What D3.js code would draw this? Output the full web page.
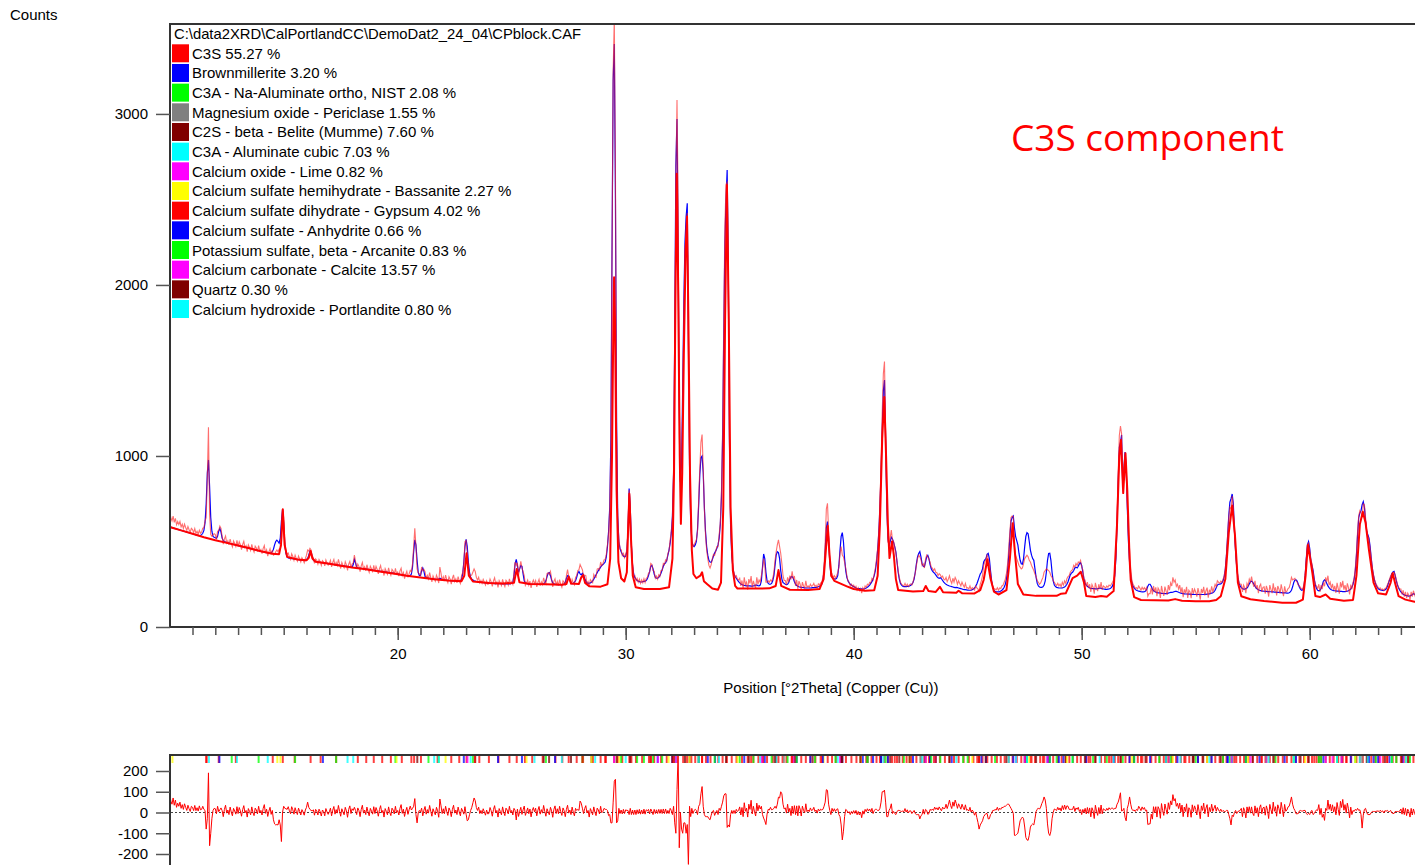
<!DOCTYPE html>
<html>
<head>
<meta charset="utf-8">
<script src="https://cdn.jsdelivr.net/npm/d3@7"></script>
<style>
  body { margin: 0; background: #fff; }
  svg { display: block; }
  text { font-family: "Liberation Sans", Arial, sans-serif; font-size: 15px; fill: #000; }
</style>
</head>
<body>
<svg id="chart" width="1415" height="865"></svg>
<script>
// ---- Scan description ----
const scanStart = 10.0;   // °2θ of the first step
const scanStep = 0.05;    // °2θ per step

// Observed counts, one row per degree (20 steps each)
const observedCounts = [
  675,638,621,649,612,635,598,616,599,617,585,601,576,601,582,565,588,569,554,577, // 10
  570,552,575,548,560,542,566,548,555,578,580,620,640,870,1168,660,540,530,540,545, // 11
  540,512,560,564,590,577,529,485,515,532,491,504,480,514,488,469,503,488,471,506, // 12
  471,498,481,453,483,501,464,475,441,480,465,447,483,456,438,472,462,441,476,444, // 13
  453,429,460,476,432,451,414,438,457,425,450,420,425,440,450,440,455,460,480,690, // 14
  640,500,448,425,432,410,395,428,412,390,420,401,385,415,398,380,405,392,376,400, // 15
  420,450,445,460,450,418,405,372,398,390,368,395,382,360,388,380,358,392,375,362, // 16
  373,390,352,378,395,357,378,360,396,367,342,377,360,346,381,363,331,368,384,346, // 17
  368,375,421,385,340,368,354,324,358,377,338,352,329,364,339,320,355,341,325,360, // 18
  326,354,337,310,341,359,323,334,301,341,326,309,346,319,302,337,327,307,343,311, // 19
  321,298,328,344,301,319,283,307,325,290,311,331,322,370,470,577,470,340,318,310, // 20
  303,351,329,336,324,282,301,282,318,289,264,299,282,268,303,286,257,350,314,271, // 21
  294,269,304,277,259,294,280,251,285,305,266,281,258,294,270,254,300,317,372,498, // 22
  505,430,345,310,300,305,322,340,325,290,275,290,258,272,255,278,262,245,270,250, // 23
  252,280,264,237,269,287,252,264,231,272,258,242,279,253,237,273,264,245,282,252, // 24
  265,250,320,380,360,376,301,346,384,346,323,301,244,257,274,245,268,229,259,274, // 25
  253,271,234,261,279,242,264,248,287,264,252,313,317,307,325,283,235,267,282,244, // 26
  266,242,277,251,233,270,261,242,300,335,295,287,248,278,257,246,290,300,330,335, // 27
  365,350,335,300,304,301,256,265,234,277,267,259,307,293,290,339,342,333,380,359, // 28
  370,392,395,425,480,545,690,1050,2150,3250,3560,2660,1150,610,520,455,452,418,430,405, // 29
  428,450,570,800,720,470,372,300,302,270,285,262,280,255,275,258,282,260,285,290, // 30
  315,318,372,365,330,325,285,298,280,305,296,330,330,372,365,392,385,430,445,510, // 31
  560,640,930,1650,2600,3082,2480,1130,850,870,1300,1850,2200,2300,2420,1450,980,600,520,470, // 32
  480,495,510,560,740,930,1080,1125,930,690,540,450,400,360,345,365,400,425,418,445, // 33
  470,470,540,610,790,1150,1780,2340,2590,2600,2040,1030,590,430,345,320,290,300,280,275, // 34
  285,240,272,225,290,248,262,218,280,255,298,232,270,245,228,290,250,275,262,300, // 35
  340,400,360,262,262,270,262,275,268,285,320,390,440,480,509,470,430,370,300,272, // 36
  272,245,290,262,300,278,325,280,298,240,275,222,268,250,215,262,240,228,270,232, // 37
  240,232,250,238,242,255,236,244,230,252,245,258,262,290,360,500,690,723,560,390, // 38
  300,310,290,300,285,300,318,350,430,470,420,410,380,345,300,268,262,240,250,235, // 39
  245,228,238,215,230,212,225,198,230,215,240,232,250,245,262,258,285,275,310,345, // 40
  395,460,560,720,950,1250,1480,1552,1150,700,500,480,520,567,510,500,465,430,385,330, // 41
  290,262,250,245,240,255,238,250,236,248,252,245,262,290,315,360,400,420,410,395, // 42
  360,370,345,395,420,410,395,380,350,345,330,340,320,318,300,312,305,290,298,280, // 43
  275,290,265,280,300,272,255,285,262,290,275,250,270,255,240,262,245,232,255,228, // 44
  230,222,240,218,230,225,215,240,228,222,210,250,270,300,360,380,395,420,400,370, // 45
  320,265,240,225,222,218,230,215,228,225,240,245,262,280,315,370,460,560,640,649, // 46
  645,470,420,400,380,360,350,340,345,370,400,410,420,411,390,380,360,345,330,310, // 47
  295,270,262,250,258,275,290,320,330,340,335,330,320,300,290,270,262,250,242,255, // 48
  240,250,235,262,245,270,255,282,295,300,320,330,335,360,350,372,360,380,375,390, // 49
  350,335,280,275,238,262,228,250,205,248,232,195,258,230,210,250,222,262,218,240, // 50
  235,228,240,232,245,240,250,262,275,320,420,640,900,1120,1175,1130,830,950,1000,900, // 51
  720,540,455,340,275,250,240,225,230,222,240,228,215,232,220,230,218,232,180,195, // 52
  195,230,190,240,205,232,180,228,215,170,240,205,182,236,210,188,245,215,258,240, // 53
  290,262,275,238,250,222,245,200,232,175,220,198,235,170,215,205,168,228,195,222, // 54
  205,178,228,196,160,222,200,235,185,212,230,172,218,200,238,205,225,250,236,270, // 55
  262,255,268,262,280,300,345,430,540,640,700,690,765,700,560,450,345,295,262,250, // 56
  250,205,245,230,198,255,240,280,262,295,258,235,270,225,245,198,238,250,205,232, // 57
  235,195,240,218,178,245,220,198,255,210,232,185,240,222,195,250,215,180,238,205, // 58
  210,225,230,255,290,275,280,285,270,262,245,240,230,222,225,250,310,395,470,495, // 59
  450,395,370,320,275,250,238,225,250,205,245,222,260,238,290,265,300,245,262,225, // 60
  252,215,240,200,258,225,195,262,232,270,218,245,205,255,230,190,248,222,260,285, // 61
  345,430,560,650,680,670,640,720,715,640,560,530,510,460,400,345,305,275,255,242, // 62
  232,225,228,218,222,212,225,228,245,260,280,300,310,318,320,305,275,250,232,222, // 63
  222,190,215,178,205,168,198,185,160,205,178,212,188,170,198,165,192,178,200,172, // 64
  182 // 65
];

// Calculated (fitted) total counts on the same steps
const calculatedCounts = [
  585,583,581,579,577,575,573,571,569,567,565,563,561,559,557,555,553,551,549,547, // 10
  545,543,541,539,537,535,534,535,540,548,565,610,720,900,977,820,640,560,530,525, // 11
  522,518,530,560,577,555,520,505,500,497,494,492,490,488,486,485,483,481,479,478, // 12
  476,474,473,471,469,468,466,465,463,461,460,458,456,455,453,451,450,448,446,445, // 13
  443,441,440,438,436,435,433,432,432,434,440,455,480,500,508,500,490,520,620,688, // 14
  610,480,430,410,404,402,401,400,399,398,397,396,395,394,393,392,391,390,389,388, // 15
  395,400,420,445,440,410,392,385,383,382,380,379,378,377,376,375,374,373,372,371, // 16
  370,369,368,367,366,365,364,363,362,361,360,359,358,357,356,355,354,353,352,351, // 17
  350,365,396,375,350,346,345,344,343,342,341,340,339,338,337,336,335,334,333,332, // 18
  331,330,329,328,327,326,325,324,323,322,321,320,319,318,317,316,315,314,313,312, // 19
  311,310,308,306,305,303,302,301,300,299,298,300,310,350,440,510,480,390,320,300, // 20
  300,330,345,325,295,290,287,285,284,283,282,281,280,279,278,278,280,285,282,276, // 21
  276,275,274,273,273,272,271,271,270,270,269,269,268,268,268,270,280,310,380,470, // 22
  513,470,380,320,290,280,275,270,268,266,265,264,263,262,261,260,259,258,258,257, // 23
  257,256,256,255,255,254,254,254,253,253,253,253,252,252,252,252,252,252,252,253, // 24
  255,262,300,370,396,360,320,340,359,355,310,270,258,254,252,251,251,250,250,250, // 25
  250,250,250,250,250,250,250,251,253,258,270,295,315,318,300,275,258,252,250,249, // 26
  248,248,247,247,247,248,252,262,285,300,298,275,258,252,255,262,270,290,315,325, // 27
  310,305,314,305,285,268,258,255,256,258,262,270,280,292,305,318,330,340,350,360, // 28
  365,372,380,410,470,560,700,1100,2200,3200,3409,2500,1200,650,500,460,440,425,415,410, // 29
  415,440,560,810,700,480,360,310,290,280,272,268,265,263,263,265,266,268,272,282, // 30
  300,325,355,360,340,310,290,285,285,290,300,315,335,355,370,375,390,420,450,490, // 31
  550,650,900,1700,2700,2971,2200,1300,850,950,1400,1900,2250,2400,2478,1700,950,620,500,475, // 32
  470,480,500,570,710,890,990,1000,900,700,560,470,420,390,380,378,395,415,432,445, // 33
  460,480,520,600,760,1100,1700,2250,2500,2672,2100,1100,600,420,350,310,295,285,275,265, // 34
  258,252,248,245,243,242,241,240,240,240,239,239,240,242,245,245,242,240,245,270, // 35
  350,427,400,320,270,255,250,250,255,270,300,360,420,440,435,400,330,280,260,255, // 36
  250,248,250,260,280,293,294,285,265,250,243,238,235,233,232,231,230,229,228,228, // 37
  228,228,228,229,230,230,231,232,233,235,238,242,250,275,330,450,580,616,520,380, // 38
  310,290,285,282,280,285,300,360,450,530,552,500,400,330,290,270,258,250,245,240, // 39
  236,232,228,226,225,224,223,223,222,223,225,228,232,238,245,255,265,280,300,330, // 40
  380,450,550,700,900,1150,1380,1444,1100,720,520,470,500,525,515,495,470,440,380,320, // 41
  280,255,245,238,236,236,236,237,238,240,244,250,260,280,320,370,410,430,441,410, // 42
  370,355,353,380,410,419,400,365,340,328,320,314,305,295,288,285,288,282,272,262, // 43
  255,250,246,243,240,238,236,234,232,230,232,230,228,226,224,222,220,219,218,217, // 44
  216,215,215,216,218,222,228,238,252,270,290,310,320,340,380,392,400,425,431,400, // 45
  330,270,230,215,208,206,205,205,207,210,215,222,232,250,280,330,420,530,620,640, // 46
  649,580,530,505,480,430,390,370,367,400,470,530,552,545,500,450,420,400,390,340, // 47
  290,255,240,234,232,232,235,245,270,320,390,430,431,390,320,270,245,236,232,230, // 48
  228,228,228,229,231,234,240,250,265,285,305,315,320,330,345,350,345,355,370,376, // 49
  360,320,280,255,245,238,232,228,226,225,224,224,223,223,224,226,228,226,224,222, // 50
  221,220,220,221,222,225,230,240,260,300,400,600,850,1050,1080,1123,820,930,1023,940, // 51
  700,500,380,300,260,240,228,220,215,212,210,208,206,205,205,206,210,220,238,250, // 52
  250,238,222,212,207,204,202,200,199,198,197,196,196,195,195,196,198,200,202,203, // 53
  204,206,208,208,206,203,200,198,196,195,194,193,193,192,192,192,191,191,191,190, // 54
  190,190,190,190,190,190,190,190,191,191,192,193,194,196,198,200,205,215,230,245, // 55
  250,250,252,258,270,295,340,420,530,650,730,750,778,720,560,440,350,290,255,240, // 56
  230,225,222,222,224,228,238,252,265,268,262,250,238,228,222,218,215,213,211,210, // 57
  209,208,208,207,207,206,206,205,205,204,204,203,203,202,202,201,200,200,199,199, // 58
  198,198,200,205,215,235,260,275,276,268,250,232,220,215,218,240,300,400,480,499, // 59
  460,390,360,330,280,245,225,215,212,215,225,245,268,276,270,255,240,230,222,218, // 60
  215,213,212,211,210,210,209,208,208,207,207,207,208,210,212,216,222,232,250,280, // 61
  330,420,540,640,667,680,715,733,700,620,560,540,520,470,400,340,300,270,250,235, // 62
  225,220,217,215,214,214,216,222,235,255,275,290,312,322,325,300,270,245,228,215, // 63
  205,198,192,188,185,183,182,181,182,185,190,195,192,186,182,180,179,178,178,177, // 64
  177 // 65
];

// C3S component profile (°2θ, counts), background included
const c3sProfile = [
  [10.0,585],[10.5,565],[11.0,545],[11.5,525],[12.0,507],[12.5,492],[13.0,476],[13.5,460],[14.0,443],
  [14.5,428],[14.8,426],[14.88,480],[14.96,688],[15.04,480],[15.15,410],[15.6,395],[16.0,390],[16.1,405],
  [16.18,444],[16.26,400],[16.4,382],[17.0,370],[17.5,358],[18.0,348],[18.6,337],[19.2,325],[19.8,313],
  [20.4,300],[21.0,289],[21.6,279],[22.2,272],[22.8,268],[22.92,300],[23.02,431],[23.12,300],[23.3,266],
  [24.0,257],[24.6,254],[25.1,258],[25.22,339],[25.34,262],[25.8,251],[26.5,250],[27.2,247],[27.4,252],
  [27.5,294],[27.6,255],[27.95,252],[28.05,290],[28.13,304],[28.22,258],[28.4,238],[28.9,236],[29.2,250],
  [29.32,400],[29.4,1000],[29.46,1800],[29.49,2045],[29.53,1800],[29.6,800],[29.68,380],[29.8,285],
  [29.94,266],[30.05,320],[30.1,550],[30.16,779],[30.22,550],[30.31,300],[30.44,232],[30.8,222],[31.5,222],
  [31.9,232],[32.05,400],[32.12,900],[32.18,1900],[32.24,2650],[32.3,2000],[32.37,1000],[32.42,603],
  [32.48,900],[32.55,1600],[32.63,2200],[32.69,2400],[32.75,1800],[32.82,900],[32.9,450],[32.97,310],
  [33.1,285],[33.27,300],[33.35,320],[33.43,268],[33.58,250],[33.8,225],[34.05,218],[34.18,260],[34.28,700],
  [34.36,1800],[34.44,2585],[34.52,1800],[34.6,700],[34.7,330],[34.8,240],[34.9,225],[35.5,225],[36.3,226],
  [36.58,240],[36.7,333],[36.82,240],[37.2,218],[38.0,216],[38.5,222],[38.68,280],[38.78,450],[38.86,590],
  [38.94,420],[39.02,300],[39.15,270],[39.4,255],[39.7,238],[40.0,222],[40.5,212],[40.9,215],[41.05,300],
  [41.15,600],[41.25,1100],[41.34,1345],[41.42,1000],[41.5,600],[41.57,403],[41.68,500],[41.76,420],
  [41.85,280],[41.95,216],[42.6,207],[43.05,210],[43.16,240],[43.28,210],[43.6,205],[43.78,235],[43.92,203],
  [44.5,200],[44.6,212],[44.75,198],[45.3,196],[45.55,215],[45.7,275],[45.86,396],[46.0,283],[46.15,207],
  [46.35,190],[46.7,215],[46.85,400],[46.97,606],[47.08,420],[47.2,251],[47.44,190],[48.0,182],[48.9,182],
  [49.1,195],[49.3,197],[49.6,286],[49.8,300],[49.96,323],[50.1,260],[50.2,181],[50.6,175],[50.85,181],
  [51.1,177],[51.4,210],[51.55,600],[51.65,1000],[51.72,1094],[51.82,783],[51.92,1016],[52.0,800],
  [52.1,400],[52.15,275],[52.3,175],[52.6,158],[53.2,156],[53.8,155],[54.1,163],[54.4,154],[55.0,150],
  [55.6,150],[55.9,158],[56.1,180],[56.3,280],[56.45,550],[56.6,710],[56.72,540],[56.85,260],[57.0,180],
  [57.4,162],[58.0,152],[58.8,142],[59.4,142],[59.7,160],[59.82,300],[59.92,480],[60.02,400],[60.12,313],
  [60.25,181],[60.45,175],[60.7,190],[60.9,165],[61.5,154],[61.9,158],[62.05,300],[62.2,600],[62.33,674],
  [62.45,610],[62.6,450],[62.8,260],[63.0,197],[63.35,190],[63.55,260],[63.64,314],[63.75,255],[63.9,180],
  [64.2,160],[64.6,148],[65.0,145]
];

// Legend: phase names with fitted weight percentages
const phaseLabels = [
  "C3S 55.27 %",
  "Brownmillerite 3.20 %",
  "C3A - Na-Aluminate ortho, NIST 2.08 %",
  "Magnesium oxide - Periclase 1.55 %",
  "C2S - beta - Belite (Mumme) 7.60 %",
  "C3A - Aluminate cubic 7.03 %",
  "Calcium oxide - Lime 0.82 %",
  "Calcium sulfate hemihydrate - Bassanite 2.27 %",
  "Calcium sulfate dihydrate - Gypsum 4.02 %",
  "Calcium sulfate - Anhydrite 0.66 %",
  "Potassium sulfate, beta - Arcanite 0.83 %",
  "Calcium carbonate - Calcite 13.57 %",
  "Quartz 0.30 %",
  "Calcium hydroxide - Portlandite 0.80 %"
];
const phaseColors = ["#ff0000","#0000ff","#00ff00","#808080","#800000","#00ffff","#ff00ff",
                     "#ffff00","#ff0000","#0000ff","#00ff00","#ff00ff","#800000","#00ffff"];

// Reflection positions (°2θ) for each phase, same order as the legend
const c3sReflections = [11.62,12.15,12.9,14.52,14.96,15.48,16.18,16.62,17.3,18.25,18.62,18.95,19.32,19.7,20.18,20.6,21.02,21.75,22.35,22.7,23.02,23.58,24.0,24.42,24.9,25.22,25.58,25.9,26.36,26.92,27.22,27.5,27.85,28.13,28.56,28.9,29.13,29.49,29.65,29.85,30.16,30.25,30.45,30.72,31.02,31.25,31.55,31.8,32.05,32.24,32.52,32.69,32.88,33.05,33.35,33.52,33.72,34.06,34.25,34.44,34.65,34.86,35.1,35.35,35.6,35.82,36.02,36.2,36.45,36.7,36.88,37.05,37.28,37.46,37.7,37.9,38.1,38.32,38.55,38.86,39.05,39.22,39.45,39.66,39.9,40.12,40.32,40.55,40.78,41.0,41.15,41.34,41.5,41.68,41.9,42.15,42.32,42.52,42.75,42.96,43.16,43.35,43.52,43.78,44.0,44.2,44.4,44.6,44.82,45.05,45.25,45.42,45.65,45.86,46.05,46.28,46.45,46.62,46.8,46.97,47.15,47.35,47.55,47.75,47.95,48.18,48.36,48.55,48.75,48.96,49.12,49.3,49.46,49.62,49.8,49.96,50.18,50.38,50.6,50.85,51.02,51.2,51.45,51.6,51.72,51.92,52.1,52.28,52.46,52.66,52.85,53.05,53.24,53.42,53.6,53.8,53.96,54.14,54.35,54.55,54.72,54.9,55.1,55.3,55.5,55.68,55.86,56.05,56.2,56.35,56.6,56.78,56.95,57.12,57.32,57.5,57.7,57.88,58.06,58.25,58.45,58.62,58.82,59.0,59.2,59.38,59.55,59.75,59.92,60.1,60.3,60.5,60.7,60.88,61.05,61.25,61.45,61.62,61.82,62.05,62.2,62.33,62.52,62.7,62.88,63.05,63.22,63.4,63.64,63.8,64.0,64.18,64.35,64.55,64.72,64.9];
const brownmilleriteReflections = [12.18,16.72,24.4,26.9,32.05,33.6,33.92,35.2,36.1,37.5,38.1,39.5,40.4,41.5,42.6,43.6,44.3,45.6,47.0,47.6,48.5,49.2,50.2,51.4,52.1,53.0,54.2,55.1,56.4,57.2,57.8,58.9,59.4,60.6,61.8,62.8,63.5,64.1];
const c3aOrthoReflections = [12.72,13.9,15.5,17.3,19.9,21.8,23.3,26.5,28.1,30.5,31.6,33.2,33.9,35.0,35.6,37.5,38.3,39.2,40.6,41.4,42.2,43.8,45.0,46.2,47.6,48.9,50.5,51.1,51.8,53.4,55.0,56.2,57.2,58.5,59.3,60.5,61.2,62.0,62.9,63.8,64.4];
const periclaseReflections = [36.94,42.92,62.3];
const beliteReflections = [23.4,26.4,27.6,28.5,29.6,30.2,31.1,32.05,32.16,32.6,32.8,33.2,34.4,35.4,36.6,37.4,38.2,39.5,40.6,41.2,41.6,42.0,43.1,44.2,45.5,46.7,47.5,48.0,49.3,50.6,51.7,52.8,53.7,54.9,56.1,56.6,57.5,58.4,59.6,60.4,61.4,62.5,63.3,64.3];
const c3aCubicReflections = [11.72,12.95,14.3,17.8,21.6,21.8,23.2,26.0,27.2,30.0,32.2,33.2,35.9,36.6,39.3,40.6,41.3,43.0,44.5,46.8,47.6,49.6,51.4,53.7,55.6,56.6,58.2,59.3,61.2,62.2,63.6];
const limeReflections = [32.2,37.35,53.85,64.15];
const bassaniteReflections = [10.12,14.72,14.86,19.95,22.1,25.65,28.5,29.72,31.88,32.8,34.9,38.68,40.3,42.45,45.2,47.7,49.35,52.2,54.0,55.5,57.3,59.8,62.0,64.2];
const gypsumReflections = [11.6,20.72,23.38,28.1,29.1,31.1,32.1,33.35,35.5,36.0,37.3,38.6,40.6,41.8,43.3,43.6,45.5,47.8,48.3,50.3,51.3,52.6,54.5,56.7,57.9,60.2,61.6,63.4];
const anhydriteReflections = [22.9,25.45,31.4,38.65,40.85,41.2,43.35,45.8,48.6,49.0,52.3,55.7,56.4,62.6,63.0];
const arcaniteReflections = [21.35,29.8,30.8,31.2,36.4,37.1,40.6,43.4,44.8,48.6,49.6,52.3,53.9,56.5,58.1,60.4,63.6];
const calciteReflections = [23.06,29.49,31.42,35.97,39.4,43.15,47.12,47.5,48.5,56.57,57.4,58.1,60.7,61.0,61.4,63.1,64.7];
const quartzReflections = [20.86,26.64,36.54,39.47,40.29,42.45,45.79,50.14,54.87,55.33,59.96,64.04];
const portlanditeReflections = [18.05,28.66,34.09,47.12,50.79,54.33,62.54,64.22];
const phaseReflections = [c3sReflections, brownmilleriteReflections, c3aOrthoReflections, periclaseReflections,
  beliteReflections, c3aCubicReflections, limeReflections, bassaniteReflections, gypsumReflections,
  anhydriteReflections, arcaniteReflections, calciteReflections, quartzReflections, portlanditeReflections];

// Axis ticks
const xMajorTicks = [20, 30, 40, 50, 60];
const countTicks = [0, 1000, 2000, 3000];
const differenceTicks = [-200, -100, 0, 100, 200];

const dataFile = "C:\\data2XRD\\CalPortlandCC\\DemoDat2_24_04\\CPblock.CAF";
const annotation = "C3S component";

// ---- Build the series ----
const nSteps = Math.min(observedCounts.length, calculatedCounts.length);
const angleAt = i => +(scanStart + i * scanStep).toFixed(2);
const observed = d3.range(nSteps).map(i => [angleAt(i), observedCounts[i]]);
const calculated = d3.range(nSteps).map(i => [angleAt(i), calculatedCounts[i]]);
const difference = d3.range(nSteps).map(i => [angleAt(i), observedCounts[i] - calculatedCounts[i]]);

// ---- Scales ----
const svg = d3.select("#chart");
const x = d3.scaleLinear().domain([10, 65]).range([169.7, 1423.7]);
const y = d3.scaleLinear().domain([0, 3520]).range([627, 25]);
const yDiff = d3.scaleLinear().domain([-200, 200]).range([854, 771]);
const plainNumber = d => String(d);

const defs = svg.append("defs");
defs.append("clipPath").attr("id", "mainClip")
  .append("rect").attr("x", 171).attr("y", 25).attr("width", 1300).attr("height", 601);
defs.append("clipPath").attr("id", "diffClip")
  .append("rect").attr("x", 171).attr("y", 756).attr("width", 1300).attr("height", 120);

const axisColor = "#333";

// ---- Main pattern ----
const mainLine = d3.line().x(d => x(d[0])).y(d => y(d[1]));
const plot = svg.append("g").attr("clip-path", "url(#mainClip)");
plot.append("path").datum(calculated)
  .attr("fill", "none").attr("stroke", "#0000ff").attr("stroke-width", 1.2)
  .attr("d", mainLine);
plot.append("path").datum(observed)
  .attr("fill", "none").attr("stroke", "#ff2020").attr("stroke-opacity", 0.65).attr("stroke-width", 1.1)
  .attr("d", mainLine);
plot.append("path").datum(c3sProfile)
  .attr("fill", "none").attr("stroke", "#ff0000").attr("stroke-width", 2)
  .attr("stroke-linejoin", "round")
  .attr("d", mainLine);

// Frame: left, top and bottom borders
svg.append("line").attr("x1", 170).attr("x2", 1415).attr("y1", 24).attr("y2", 24)
  .attr("stroke", axisColor).attr("stroke-width", 2);
svg.append("line").attr("x1", 170).attr("x2", 170).attr("y1", 23).attr("y2", 628)
  .attr("stroke", axisColor).attr("stroke-width", 2);
svg.append("line").attr("x1", 169).attr("x2", 1415).attr("y1", 627).attr("y2", 627)
  .attr("stroke", axisColor).attr("stroke-width", 2);

// X axis: minor ticks every degree, major ticks with labels
const xMinor = d3.axisBottom(x).tickValues(d3.range(11, 65)).tickSize(8).tickFormat("").tickSizeOuter(0);
const xMajor = d3.axisBottom(x).tickValues(xMajorTicks).tickSize(13).tickPadding(8)
  .tickFormat(plainNumber).tickSizeOuter(0);
[xMinor, xMajor].forEach(ax => {
  const g = svg.append("g").attr("transform", "translate(0,627)").call(ax);
  g.select(".domain").remove();
  g.selectAll(".tick line").attr("stroke", "#555").attr("stroke-width", 1.5);
  g.selectAll(".tick text").attr("font-size", 15).attr("font-family", null);
});

// Y axis (counts)
const yAxis = d3.axisLeft(y).tickValues(countTicks).tickSize(14).tickPadding(8)
  .tickFormat(plainNumber).tickSizeOuter(0);
const gy = svg.append("g").attr("transform", "translate(170,0)").call(yAxis);
gy.select(".domain").remove();
gy.selectAll(".tick line").attr("stroke", "#555").attr("stroke-width", 1.5);
gy.selectAll(".tick text").attr("font-size", 15).attr("font-family", null);

svg.append("text").attr("x", 10).attr("y", 20).text("Counts");
svg.append("text").attr("x", 831).attr("y", 693).attr("text-anchor", "middle")
  .text("Position [°2Theta] (Copper (Cu))");

// ---- Legend ----
svg.append("text").attr("x", 174).attr("y", 39).style("font-size", "14.8px").text(dataFile);
const legend = svg.append("g");
phaseLabels.forEach((label, i) => {
  const cy = 53.3 + i * 19.67;
  legend.append("rect").attr("x", 172).attr("y", cy - 9).attr("width", 17).attr("height", 18)
    .attr("fill", phaseColors[i]);
  legend.append("text").attr("x", 192).attr("y", cy + 5.5).text(label);
});

svg.append("text").attr("x", 1011).attr("y", 151)
  .style("font-family", "'Open Sans', 'Noto Sans', sans-serif").style("font-size", "37px")
  .style("fill", "#ff0000").text(annotation);

// ---- Difference panel ----
svg.append("line").attr("x1", 169).attr("x2", 1415).attr("y1", 755).attr("y2", 755)
  .attr("stroke", axisColor).attr("stroke-width", 2);
svg.append("line").attr("x1", 170).attr("x2", 170).attr("y1", 754).attr("y2", 870)
  .attr("stroke", axisColor).attr("stroke-width", 2);

// Reflection markers strip
const strip = svg.append("g").attr("clip-path", "url(#diffClip)");
phaseReflections.forEach((positions, p) => {
  strip.selectAll(null).data(positions).enter().append("line")
    .attr("x1", d => x(d)).attr("x2", d => x(d))
    .attr("y1", 756).attr("y2", 763)
    .attr("stroke", phaseColors[p]).attr("stroke-width", 2).attr("stroke-opacity", 0.75);
});

// Zero reference line
svg.append("line").attr("x1", 171).attr("x2", 1415).attr("y1", yDiff(0)).attr("y2", yDiff(0))
  .attr("stroke", "#444").attr("stroke-width", 1).attr("stroke-dasharray", "2,2");

const diffLine = d3.line().x(d => x(d[0])).y(d => yDiff(d[1]));
svg.append("g").attr("clip-path", "url(#diffClip)")
  .append("path").datum(difference)
  .attr("fill", "none").attr("stroke", "#ff0000").attr("stroke-width", 1)
  .attr("d", diffLine);

const dAxis = d3.axisLeft(yDiff).tickValues(differenceTicks).tickSize(14).tickPadding(8)
  .tickFormat(plainNumber).tickSizeOuter(0);
const gd = svg.append("g").attr("transform", "translate(170,0)").call(dAxis);
gd.select(".domain").remove();
gd.selectAll(".tick line").attr("stroke", "#555").attr("stroke-width", 1.5);
gd.selectAll(".tick text").attr("font-size", 15).attr("font-family", null);
</script>
</body>
</html>
